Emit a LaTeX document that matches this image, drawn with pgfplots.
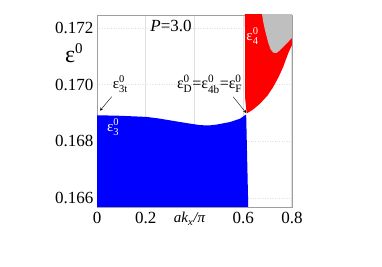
\documentclass[border=0pt]{standalone}
\usepackage{fontspec}
\setmainfont{Liberation Serif}
\usepackage{amsmath}
\usepackage{pgfplots}
\pgfplotsset{compat=1.18}
\newcommand{\eps}[1]{ε$^{\text{0}}_{\text{#1}}$}
\begin{document}
\begin{tikzpicture}
\begin{axis}[
  at={(0pt,0pt)}, anchor=south west,
  scale only axis, width=195pt, height=192pt,
  xmin=0, xmax=0.8, ymin=0.16568, ymax=0.17246,
  xtick={0,0.2,0.4,0.6,0.8}, xticklabels={0,0.2,,0.6,0.8},
  ytick={0.166,0.168,0.170,0.172},
  yticklabels={0.166,0.168,0.170,0.172},
  every tick label/.append style={font=\fontsize{17}{17}\selectfont},
  xticklabel style={yshift=-2pt},
  tick style={draw=none},
  axis line style={gray!75, line width=0.9pt},
  xmajorgrids, ymajorgrids,
  x grid style={gray!25, line width=1pt},
  y grid style={gray!25, dotted, line width=0.6pt},
  clip mode=individual,
]
\addplot[fill=blue, draw=none] coordinates {
 (0,0.16550) (0,0.16892) (0.1,0.16890) (0.204,0.16886) (0.25,0.16881)
 (0.313,0.16872) (0.37,0.16864) (0.423,0.16857) (0.46,0.16856)
 (0.491,0.16859) (0.546,0.16868) (0.587,0.16880) (0.612,0.16895) (0.621,0.16550)};
\addplot[fill=red, draw=none] coordinates {
 (0.607,0.1726) (0.608,0.1695) (0.614,0.16898) (0.64,0.16912) (0.669,0.16933)
 (0.70,0.16962) (0.723,0.16992) (0.745,0.17027) (0.764,0.17063)
 (0.785,0.17112) (0.8,0.17140) (0.81,0.17140) (0.81,0.1726)};
\addplot[fill=gray!50, draw=none] coordinates {
 (0.675,0.1726) (0.682,0.17222) (0.689,0.17193) (0.702,0.17150) (0.712,0.17125)
 (0.723,0.17113) (0.737,0.17112) (0.751,0.17122) (0.775,0.17143)
 (0.8,0.17165) (0.81,0.17165) (0.81,0.1726)};
\draw[-stealth, thin] (axis cs:0.060,0.16957) -- (axis cs:0.012,0.16908);
\draw[-stealth, thin] (axis cs:0.559,0.16957) -- (axis cs:0.612,0.16900);
\node[font=\fontsize{15}{15}\selectfont] at (axis cs:0.096,0.17002) {\eps{3t}};
\node[font=\fontsize{16}{16}\selectfont] at (axis cs:0.462,0.17002) {\eps{D}=\eps{4b}=\eps{F}};
\node[font=\fontsize{15}{15}\selectfont, text=white] at (axis cs:0.066,0.16850) {\eps{3}};
\node[font=\fontsize{15}{15}\selectfont, text=white] at (axis cs:0.638,0.17172) {\eps{4}};
\node[font=\fontsize{17}{17}\selectfont] at (axis cs:0.304,0.17207) {\textit{P}=3.0};
\node[font=\fontsize{15}{15}\selectfont, anchor=base] at (axis cs:0.38,0.16568) [yshift=-16pt] {\textit{ak}$_{\textit{x}}$\textit{/π}};
\node[font=\fontsize{24}{24}\selectfont] at (axis cs:-0.094,0.17111) {ε$^{\text{\fontsize{15}{15}\selectfont 0}}$};
\end{axis}
\useasboundingbox (-97pt,-60pt) rectangle (285pt,207pt);
\end{tikzpicture}
\end{document}
